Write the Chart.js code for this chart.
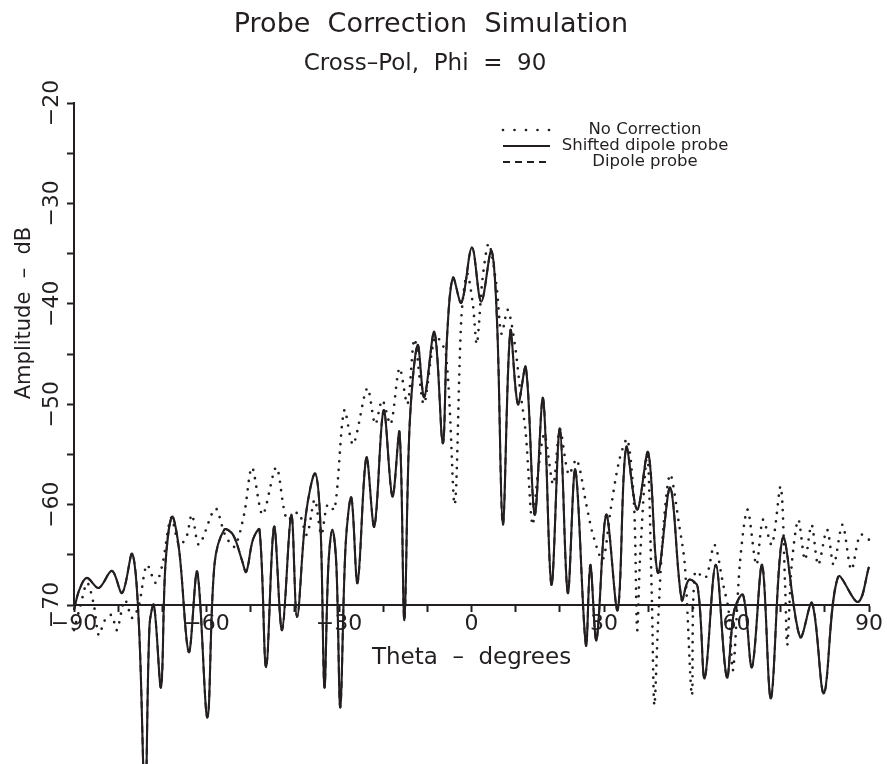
<!DOCTYPE html>
<html>
<head>
<meta charset="utf-8">
<script src="https://cdn.jsdelivr.net/npm/chart.js@4"></script>
<style>
  html, body { margin: 0; padding: 0; background: #fff; }
</style>
</head>
<body>
<canvas id="grafico" width="887" height="764"></canvas>
<script>
const tinta = '#231f20';

// Theta (degrees) and amplitude (dB)
const thetaNoCorr = [-90, -88.5, -87, -85.5, -84.4, -83, -81.5, -80.3, -78.5, -76.8, -75.3, -73.5, -71.5, -70, -68, -66.2, -64.6, -63.3, -61.7, -58, -55.8, -53.7, -51.5, -49.7, -47.3, -44.2, -41.8, -39.2, -37.3, -35.5, -34, -32.6, -31, -28.8, -26.8, -23.6, -21.8, -20.2, -18.3, -16.3, -14.5, -12.9, -10.8, -8.2, -5.8, -3.8, -2.3, -1, 0.3, 1.2, 2.5, 3.9, 5.6, 6.8, 8.2, 9.8, 11, 12.3, 13.8, 15, 16.5, 18.5, 20, 22, 23.8, 26, 27.5, 29.7, 31.5, 33.5, 35.3, 36.8, 37.5, 38.2, 39.8, 40.8, 41.4, 42.3, 43.5, 45, 47, 48.3, 49.9, 50.6, 53, 55, 57, 58.2, 59.2, 60.8, 62.5, 64.5, 66, 68, 70, 71, 71.5, 72.5, 74, 75.5, 77, 78.5, 80.5, 82, 84, 86, 88, 90];
const ampNoCorr = [-72.5, -70, -67.8, -70, -73, -71.5, -71, -72.5, -69.5, -71.3, -70, -66, -67.8, -66, -61.3, -64, -63.3, -61, -64, -60.4, -63, -64.2, -61, -56.3, -61, -56.3, -61.5, -60.8, -63, -59.5, -63, -60, -60.5, -50.6, -54, -48.4, -52, -49.6, -52, -46.4, -50, -43.5, -50, -43.3, -45, -60, -41.4, -37, -40, -44, -37.5, -34, -38, -43, -40.6, -44, -48.5, -53, -62, -57, -53, -58, -52.5, -57, -55.5, -60, -63, -65.5, -60.5, -55.5, -53.5, -60, -72.5, -65, -55, -68.7, -80, -71.2, -62, -57, -62, -66, -79, -66.7, -67.3, -64, -68, -70.5, -76.5, -65.7, -60.5, -66, -61.5, -64, -58.2, -68, -74, -66, -61.5, -65.5, -62, -66, -62.5, -66, -62, -66.5, -63, -63.5];

const thetaShifted = [-90, -88.8, -87.1, -84.4, -81.4, -79.1, -76.8, -75.3, -73.9, -72.9, -71.9, -70.3, -69.3, -67.8, -66.2, -64, -62.1, -59.8, -58.2, -56, -54, -52, -51, -49.5, -48, -46.5, -44.7, -42.9, -40.8, -39.5, -37.5, -35.4, -34.2, -33.3, -32.4, -31.5, -30.6, -29.7, -28.5, -27.2, -25.8, -23.8, -22, -19.9, -17.9, -16.3, -15.2, -14, -12.2, -10.7, -8.4, -6.5, -5.5, -4.2, -2.3, 0.1, 2.2, 4.5, 5.8, 7.1, 8.8, 10.5, 12.3, 14.3, 16.2, 18.1, 20, 21.8, 23.5, 25.9, 26.9, 28.3, 30.5, 33.1, 35, 37.5, 40, 42.2, 45, 47.6, 49.2, 51.2, 52.8, 55.3, 57.8, 59.5, 61.5, 63.5, 65.8, 67.8, 70.5, 74.4, 77.1, 79.8, 83, 87.5, 90];
const ampShifted = [-70.5, -68.5, -67.3, -68.3, -66.6, -68.8, -64.9, -72, -90, -72, -70, -78.2, -66, -61.2, -64.5, -74.7, -66.7, -81.2, -66, -62.5, -63, -65.5, -66.7, -63.5, -62.5, -76.2, -62.2, -72.5, -61, -71.2, -61, -56.9, -62, -78.2, -66, -62.5, -66, -80.2, -64, -59.3, -67.8, -55.3, -62.2, -50.6, -59.2, -52.8, -71.5, -52, -44.1, -49.3, -42.8, -53.9, -43, -37.4, -39.9, -34.4, -39.8, -34.7, -42, -62, -42.7, -50, -46.3, -61, -49.4, -68, -52.4, -68.8, -56.5, -74, -66, -73.5, -61, -70.5, -54.3, -60.5, -54.8, -66.8, -58.3, -69.5, -67.5, -68.2, -77.3, -66, -77.2, -70.5, -69, -76.2, -66, -79.3, -63.3, -73.2, -69.8, -78.8, -67.2, -69.7, -66.2];

// dipole probe trace lies on top of the shifted one
const thetaDipole = [-90, -88.8, -87.1, -84.4, -81.4, -79.1, -76.8, -75.3, -73.9, -72.9, -71.9, -70.3, -69.3, -67.8, -66.2, -64, -62.1, -59.8, -58.2, -56, -54, -52, -51, -49.5, -48, -46.5, -44.7, -42.9, -40.8, -39.5, -37.5, -35.4, -34.2, -33.3, -32.4, -31.5, -30.6, -29.7, -28.5, -27.2, -25.8, -23.8, -22, -19.9, -17.9, -16.3, -15.2, -14, -12.2, -10.7, -8.4, -6.5, -5.5, -4.2, -2.3, 0.1, 2.2, 4.5, 5.8, 7.1, 8.8, 10.5, 12.3, 14.3, 16.2, 18.1, 20, 21.8, 23.5, 25.9, 26.9, 28.3, 30.5, 33.1, 35, 37.5, 40, 42.2, 45, 47.6, 49.2, 51.2, 52.8, 55.3, 57.8, 59.5, 61.5, 63.5, 65.8, 67.8, 70.5, 74.4, 77.1, 79.8, 83, 87.5, 90];
const ampDipole = [-70.5, -68.5, -67.3, -68.3, -66.6, -68.8, -64.9, -72, -90, -72, -70, -78.2, -66, -61.2, -64.5, -74.7, -66.7, -81.2, -66, -62.5, -63, -65.5, -66.7, -63.5, -62.5, -76.2, -62.2, -72.5, -61, -71.2, -61, -56.9, -62, -78.2, -66, -62.5, -66, -80.2, -64, -59.3, -67.8, -55.3, -62.2, -50.6, -59.2, -52.8, -71.5, -52, -44.1, -49.3, -42.8, -53.9, -43, -37.4, -39.9, -34.4, -39.8, -34.7, -42, -62, -42.7, -50, -46.3, -61, -49.4, -68, -52.4, -68.8, -56.5, -74, -66, -73.5, -61, -70.5, -54.3, -60.5, -54.8, -66.8, -58.3, -69.5, -67.5, -68.2, -77.3, -66, -77.2, -70.5, -69, -76.2, -66, -79.3, -63.3, -73.2, -69.8, -78.8, -67.2, -69.7, -66.2];

const nomes = ['No Correction', 'Shifted dipole probe', 'Dipole probe'];
const ticksX = [-90, -60, -30, 0, 30, 60, 90];
const ticksY = [-70, -60, -50, -40, -30, -20];

const titulo = 'Probe  Correction  Simulation';
const subtitulo = 'Cross\u2013Pol,  Phi  =  90';
const tituloX = 'Theta  \u2013  degrees';
const tituloY = 'Amplitude  \u2013  dB';

const pares = (xs, ys) => xs.map((x, i) => ({ x: x, y: ys[i] }));
const sinal = v => (v < 0 ? '\u2212' + Math.abs(v) : String(v));
const fonte = '"DejaVu Sans", sans-serif';

Chart.defaults.font.family = fonte;
Chart.defaults.color = tinta;

// titles, rotated y title and the legend block
const textos = {
    id: 'textos',
    beforeDraw(chart) {
        const c = chart.ctx;
        c.save();
        c.fillStyle = '#fff';
        c.fillRect(0, 0, chart.width, chart.height);
        c.restore();
    },
    afterDraw(chart) {
        const c = chart.ctx;
        c.save();
        c.fillStyle = tinta;
        c.textAlign = 'center';
        c.textBaseline = 'middle';
        c.font = '27px ' + fonte;
        c.fillText(titulo, 431, 25);
        c.font = '23px ' + fonte;
        c.fillText(subtitulo, 425, 64);

        c.save();
        c.translate(25, 313);
        c.rotate(-Math.PI / 2);
        c.font = '21px ' + fonte;
        c.fillText(tituloY, 0, 0);
        c.restore();

        c.font = '16.5px ' + fonte;
        chart.data.datasets.forEach((ds, i) => {
            const y = 130 + 16 * i;
            c.save();
            c.strokeStyle = ds.borderColor;
            c.lineWidth = ds.borderWidth;
            c.lineCap = ds.borderCapStyle || 'butt';
            c.setLineDash(ds.legendaDash || []);
            c.beginPath();
            c.moveTo(503, y);
            c.lineTo(550, y);
            c.stroke();
            c.restore();
            c.fillText(ds.label, 645, y);
        });
        c.restore();
    }
};

const ctx = document.getElementById('grafico').getContext('2d');

const grafico = new Chart(ctx, {
    type: 'line',
    data: {
        datasets: [{
            label: nomes[0],
            data: pares(thetaNoCorr, ampNoCorr),
            borderColor: tinta,
            borderWidth: 2.7,
            borderDash: [0, 8.5],
            borderCapStyle: 'round',
            legendaDash: [0, 11.5],
            tension: 0.3,
            clip: false
        }, {
            label: nomes[1],
            data: pares(thetaShifted, ampShifted),
            borderColor: tinta,
            borderWidth: 2.1,
            tension: 0.35,
            clip: false
        }, {
            label: nomes[2],
            data: pares(thetaDipole, ampDipole),
            borderColor: tinta,
            borderWidth: 2,
            borderDash: [7, 5],
            legendaDash: [7, 5],
            tension: 0.35,
            clip: false
        }]
    },
    options: {
        responsive: false,
        animation: false,
        events: [],
        layout: { padding: { top: 103, right: 18, bottom: 0, left: 0 } },
        elements: { point: { radius: 0 } },
        plugins: {
            legend: { display: false },
            title: { display: false },
            tooltip: { enabled: false }
        },
        scales: {
            x: {
                type: 'linear',
                min: -90,
                max: 90,
                afterFit: s => { s.height = 159; s.paddingLeft = 0; s.paddingRight = 0; },
                afterBuildTicks: s => { s.ticks = []; for (let v = -90; v <= 90; v += 10) s.ticks.push({ value: v }); },
                ticks: {
                    autoSkip: false,
                    maxRotation: 0,
                    padding: -1,
                    font: { size: 22 },
                    callback: v => (ticksX.includes(v) ? sinal(v) : '')
                },
                grid: { drawOnChartArea: false, tickLength: 7, tickWidth: 2, tickColor: tinta },
                border: { color: tinta, width: 2 },
                title: {
                    display: true,
                    text: tituloX,
                    font: { size: 23 },
                    padding: { top: 0, bottom: 92 }
                }
            },
            y: {
                min: -70,
                max: -20,
                afterFit: s => { s.width = 74; s.paddingTop = 0; s.paddingBottom = 0; },
                afterBuildTicks: s => { s.ticks = []; for (let v = -70; v <= -20; v += 5) s.ticks.push({ value: v }); },
                ticks: {
                    autoSkip: false,
                    minRotation: 90,
                    maxRotation: 90,
                    crossAlign: 'center',
                    padding: -8,
                    font: { size: 22 },
                    callback: v => (ticksY.includes(v) ? sinal(v) : '')
                },
                grid: { drawOnChartArea: false, tickLength: 7, tickWidth: 2, tickColor: tinta },
                border: { color: tinta, width: 2 }
            }
        }
    },
    plugins: [textos]
});
</script>
</body>
</html>
